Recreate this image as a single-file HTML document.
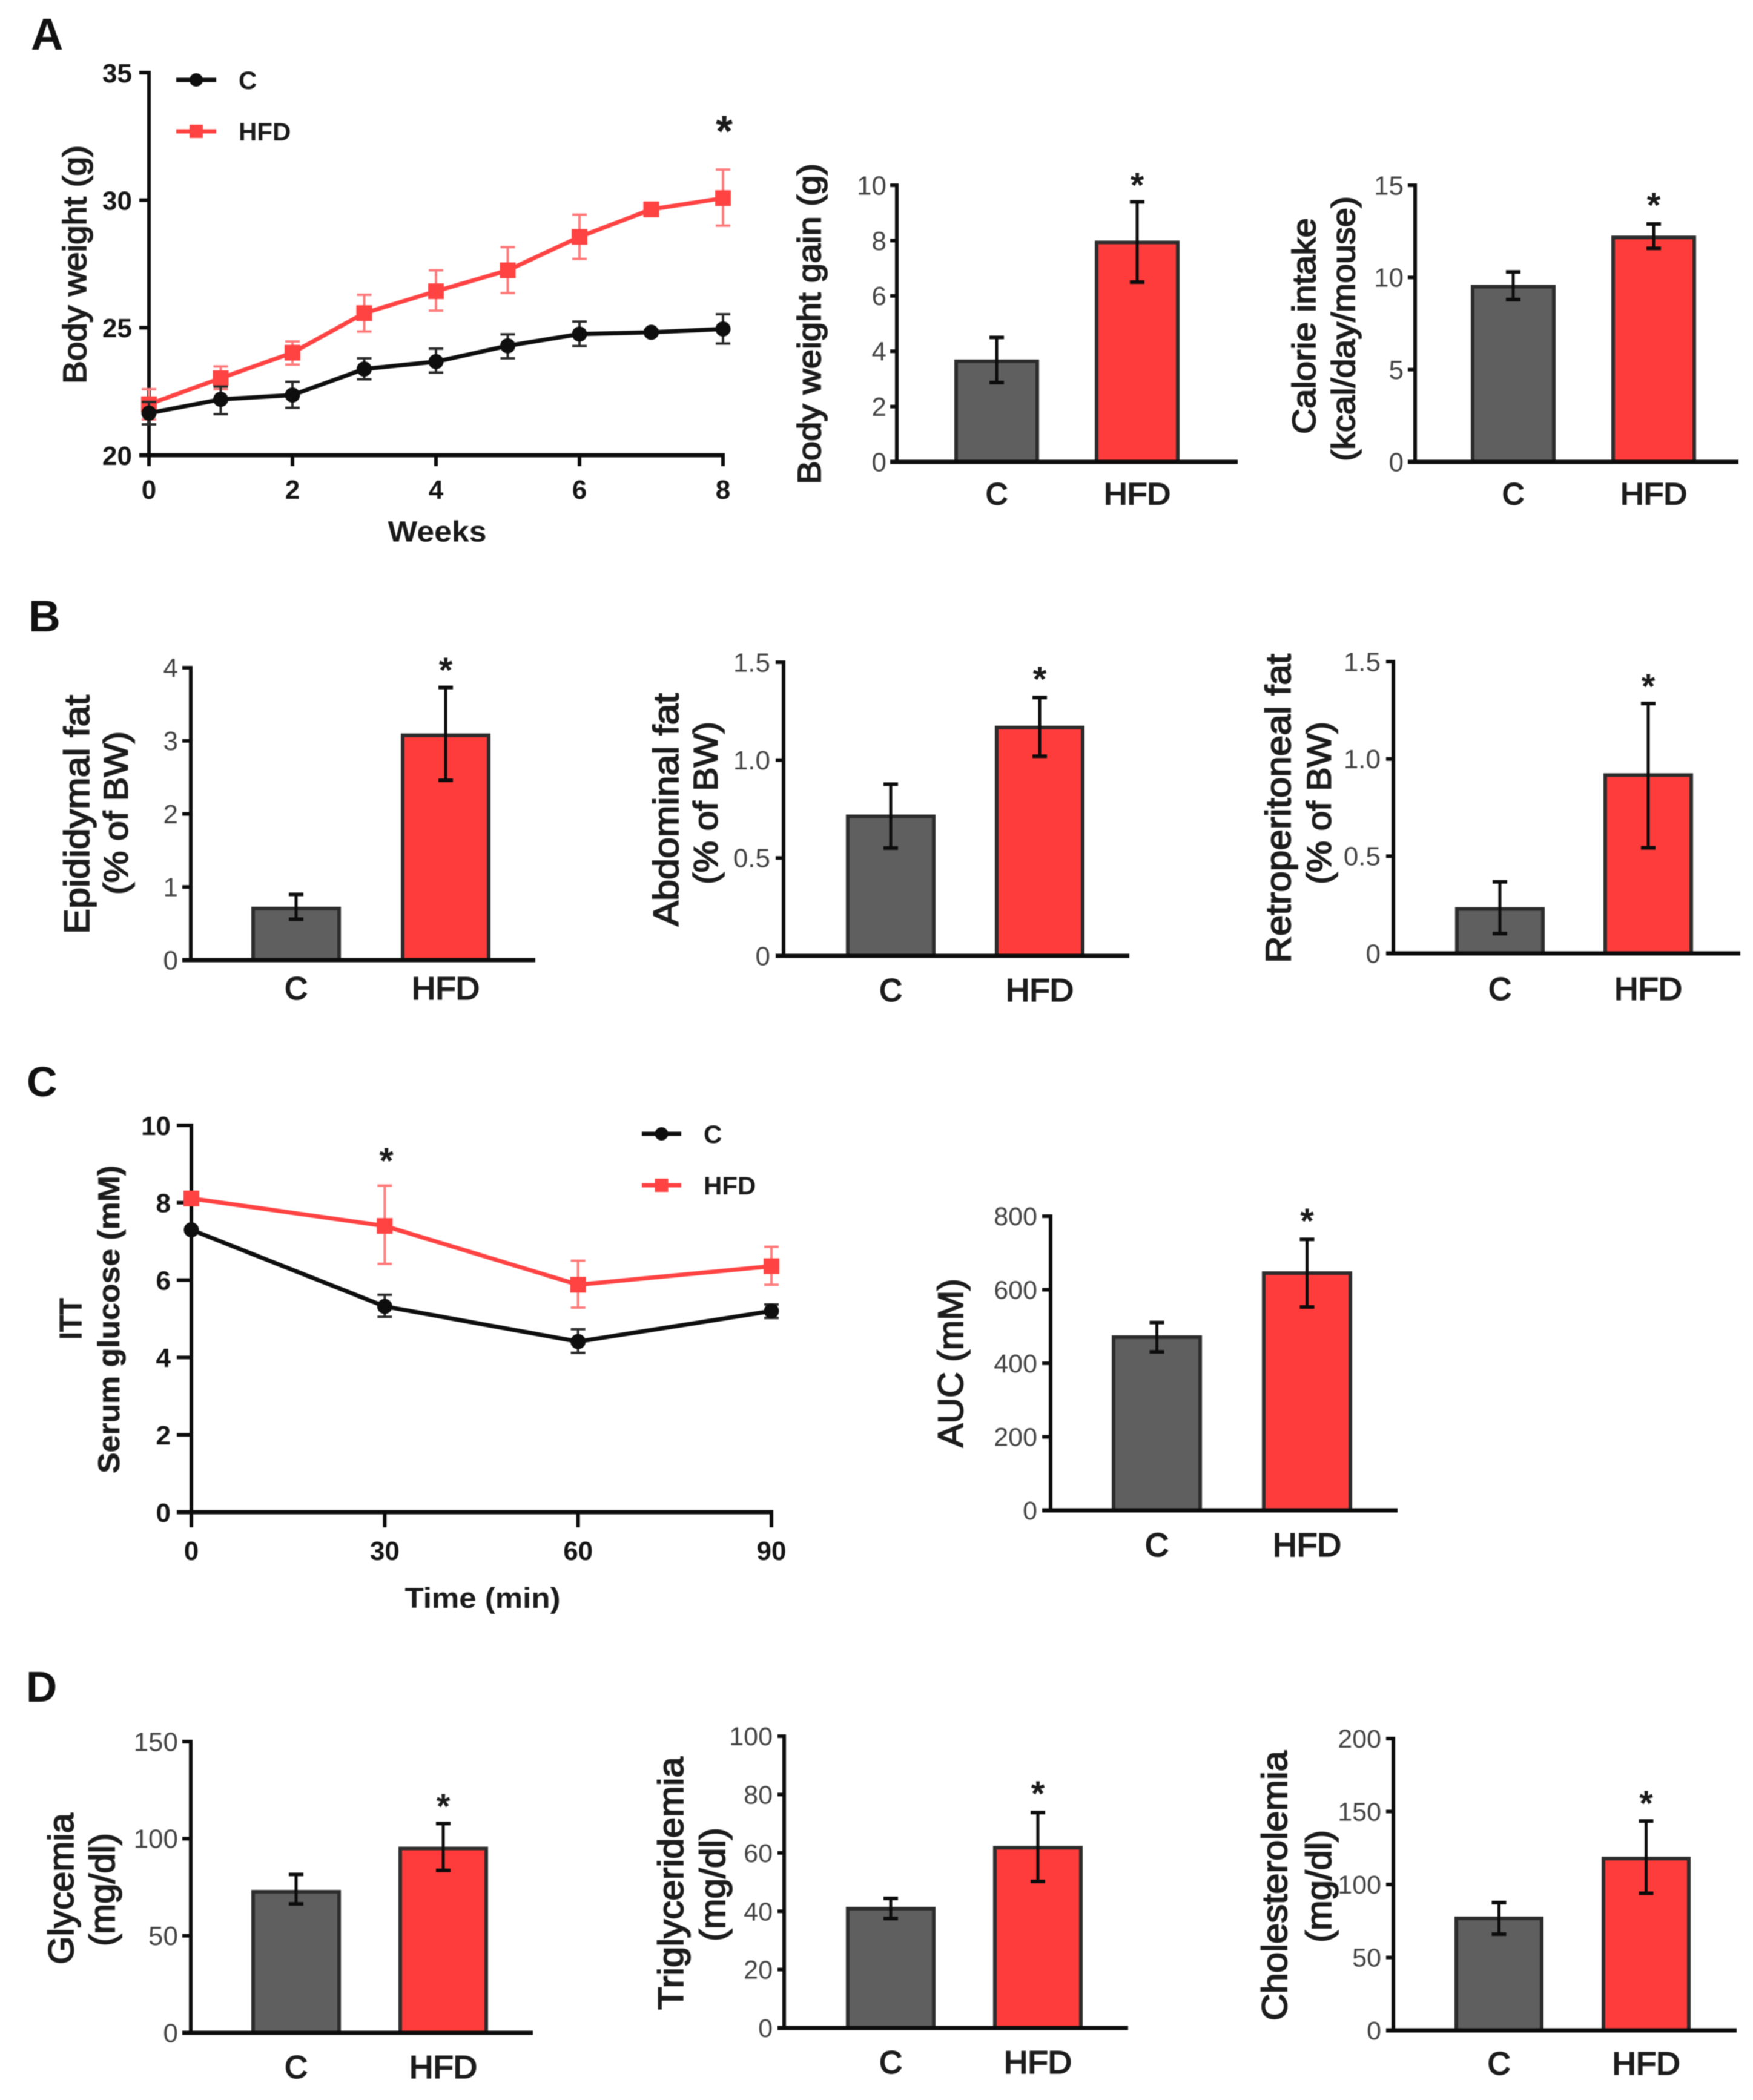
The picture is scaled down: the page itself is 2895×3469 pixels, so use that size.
<!DOCTYPE html>
<html lang="en">
<head>
<meta charset="utf-8">
<title>Body weight, fat, ITT and serum lipid figure</title>
<style>
html,body{margin:0;padding:0;background:#fff;width:2895px;height:3469px;overflow:hidden}
svg{position:absolute;left:0;top:0;filter:blur(0.9px)}
text{font-family:"Liberation Sans",sans-serif}
</style>
</head>
<body>
<svg id="figure" xmlns="http://www.w3.org/2000/svg" width="2895" height="3469" viewBox="0 0 2895 3469">
  <rect width="2895" height="3469" fill="#fff"/>
  <text x="51" y="82" font-size="74" font-weight="bold" fill="#111">A</text>
  <text x="47" y="1043" font-size="73" font-weight="bold" fill="#111">B</text>
  <text x="44" y="1811" font-size="70" font-weight="bold" fill="#111">C</text>
  <text x="43" y="2811" font-size="71" font-weight="bold" fill="#111">D</text>
  <g id="body-weight"></g>
  <g id="gain"></g>
  <g id="calorie"></g>
  <g id="epididymal"></g>
  <g id="abdominal"></g>
  <g id="retro"></g>
  <g id="itt"></g>
  <g id="auc"></g>
  <g id="glycemia"></g>
  <g id="trig"></g>
  <g id="chol"></g>
</svg>
<script>
const groups = ['C', 'HFD'];

const weightWeeks = [0, 1, 2, 3, 4, 5, 6, 7, 8];
const weightXTicks = [0, 2, 4, 6, 8];
const weightYTicks = [20, 25, 30, 35];
const weightC = [21.65, 22.19, 22.36, 23.38, 23.67, 24.29, 24.75, 24.82, 24.95];
const weightCUpper = [22.09, 22.69, 22.88, 23.8, 24.18, 24.74, 25.24, 24.9, 25.53];
const weightCLower = [21.21, 21.61, 21.86, 22.98, 23.24, 23.8, 24.28, 24.74, 24.38];
const weightHFD = [22.0, 23.02, 24.02, 25.57, 26.43, 27.25, 28.56, 29.64, 30.08];
const weightHFDUpper = [22.59, 23.48, 24.46, 26.29, 27.25, 28.16, 29.43, 29.78, 31.2];
const weightHFDLower = [21.4, 22.59, 23.55, 24.85, 25.67, 26.36, 27.7, 29.46, 29.0];

const ittTimes = [0, 30, 60, 90];
const ittXTicks = [0, 30, 60, 90];
const ittYTicks = [0, 2, 4, 6, 8, 10];
const ittC = [7.3, 5.32, 4.41, 5.2];
const ittCUpper = [7.3, 5.62, 4.73, 5.37];
const ittCLower = [7.3, 5.05, 4.12, 5.02];
const ittHFD = [8.11, 7.4, 5.88, 6.36];
const ittHFDUpper = [8.11, 8.44, 6.5, 6.86];
const ittHFDLower = [8.11, 6.42, 5.29, 5.88];

const gainTicks = [0, 2, 4, 6, 8, 10];
const gainTickLabels = ['0', '2', '4', '6', '8', '10'];
const gainMeans = [3.7, 8.0];
const gainUpper = [4.5, 9.4];
const gainLower = [2.87, 6.5];

const calorieTicks = [0, 5, 10, 15];
const calorieTickLabels = ['0', '5', '10', '15'];
const calorieMeans = [9.6, 12.27];
const calorieUpper = [10.3, 12.9];
const calorieLower = [8.8, 11.58];

const epididymalTicks = [0, 1, 2, 3, 4];
const epididymalTickLabels = ['0', '1', '2', '3', '4'];
const epididymalMeans = [0.73, 3.1];
const epididymalUpper = [0.9, 3.73];
const epididymalLower = [0.56, 2.46];

const abdominalTicks = [0, 0.5, 1, 1.5];
const abdominalTickLabels = ['0', '0.5', '1.0', '1.5'];
const abdominalMeans = [0.722, 1.176];
const abdominalUpper = [0.877, 1.32];
const abdominalLower = [0.551, 1.02];

const retroTicks = [0, 0.5, 1, 1.5];
const retroTickLabels = ['0', '0.5', '1.0', '1.5'];
const retroMeans = [0.238, 0.926];
const retroUpper = [0.368, 1.285];
const retroLower = [0.102, 0.543];

const aucTicks = [0, 200, 400, 600, 800];
const aucTickLabels = ['0', '200', '400', '600', '800'];
const aucMeans = [476, 650];
const aucUpper = [511, 737];
const aucLower = [431, 553];

const glycemiaTicks = [0, 50, 100, 150];
const glycemiaTickLabels = ['0', '50', '100', '150'];
const glycemiaMeans = [73.6, 95.9];
const glycemiaUpper = [81.6, 107.8];
const glycemiaLower = [66.4, 83.7];

const trigTicks = [0, 20, 40, 60, 80, 100];
const trigTickLabels = ['0', '20', '40', '60', '80', '100'];
const trigMeans = [41.5, 62.4];
const trigUpper = [44.4, 73.8];
const trigLower = [37.5, 50.2];

const cholTicks = [0, 50, 100, 150, 200];
const cholTickLabels = ['0', '50', '100', '150', '200'];
const cholMeans = [78, 119];
const cholUpper = [87.6, 143.5];
const cholLower = [66, 94];

const NS = 'http://www.w3.org/2000/svg';
function make(parent, tag, attrs) {
  const node = document.createElementNS(NS, tag);
  for (const key in attrs) node.setAttribute(key, attrs[key]);
  parent.appendChild(node);
  return node;
}
function segment(parent, x1, y1, x2, y2, color, width) {
  return make(parent, 'line', {x1: x1, y1: y1, x2: x2, y2: y2, stroke: color, 'stroke-width': width});
}
function label(parent, str, x, y, size, opts) {
  const o = opts || {};
  const attrs = {x: x, y: y, 'font-size': size, 'text-anchor': o.anchor || 'middle', fill: o.fill || '#222'};
  if (o.bold) attrs['font-weight'] = 'bold';
  if (o.stroke) { attrs.stroke = o.fill || '#222'; attrs['stroke-width'] = o.stroke; }
  if (o.length) { attrs.textLength = o.length; attrs.lengthAdjust = 'spacingAndGlyphs'; }
  const node = make(parent, 'text', attrs);
  node.textContent = str;
  return node;
}
function drawTitle(parent, t) {
  const cy = (t.y0 + t.y1) / 2;
  const bx = t.cx + 0.26 * t.fs;
  const node = label(parent, t.text, 0, 0, t.fs, {length: t.y1 - t.y0, bold: t.bold, stroke: t.bold ? 0.6 : 1.8, fill: '#1c1c1c'});
  node.setAttribute('transform', 'translate(' + bx + ',' + cy + ') rotate(-90)');
  
  
}
function drawStar(parent, x, cy, size) {
  const node = label(parent, '*', x, cy + 0.48 * size, size, {bold: true, fill: '#1a1a1a'});
  
  
}

function drawBarChart(id, cfg, ticks, tickLabels, means, upper, lower) {
  const root = document.getElementById(id);
  const yMax = ticks[ticks.length - 1];
  const yScale = v => cfg.base - v / yMax * (cfg.base - cfg.top);
  const barLeft = i => cfg.barLeft + i * cfg.step;

  groups.forEach((g, i) => {
    const y = yScale(means[i]);
    const bar = make(root, 'rect', {x: barLeft(i) + 3, y: y + 3, width: cfg.barW - 6, height: cfg.base - y - 3,
      fill: i === 0 ? '#5f5f5f' : '#ff3c3c', stroke: '#2c2c2c', 'stroke-width': 6});
    
    
  });

  const yAxis = segment(root, cfg.axisX, cfg.top - 3, cfg.axisX, cfg.base + 3, '#0c0c0c', 6);
  
  
  const xAxis = segment(root, cfg.tickLeft, cfg.base, cfg.right, cfg.base, '#0c0c0c', 7);
  
  

  ticks.forEach((v, i) => {
    const y = yScale(v);
    const mark = segment(root, cfg.tickLeft, y, cfg.axisX, y, '#0c0c0c', 6);
    
    
    const text = label(root, tickLabels[i], cfg.tickRight, y + 0.35 * cfg.tickFs, cfg.tickFs, {anchor: 'end', fill: '#444'});
    
    
  });

  groups.forEach((g, i) => {
    const cx = barLeft(i) + cfg.barW / 2;
    const stem = segment(root, cx, yScale(upper[i]), cx, yScale(lower[i]), '#0c0c0c', 5);
    
    
    const capTop = segment(root, cx - 12, yScale(upper[i]), cx + 12, yScale(upper[i]), '#0c0c0c', 6);
    
    
    const capBottom = segment(root, cx - 12, yScale(lower[i]), cx + 12, yScale(lower[i]), '#0c0c0c', 6);
    
    
    const cat = label(root, g, cx, cfg.catY + 0.36 * cfg.catFs, cfg.catFs, {stroke: 2.2, fill: '#1c1c1c', length: i === 1 ? cfg.hfdW : 0});
    
    
  });

  drawStar(root, barLeft(1) + cfg.barW / 2, cfg.starY, 58);
  cfg.titles.forEach(t => drawTitle(root, t));
}

function drawLineChart(id, cfg, xs, xTicks, yTicks, seriesC, cUp, cLo, seriesH, hUp, hLo) {
  const root = document.getElementById(id);
  const xMax = xTicks[xTicks.length - 1];
  const yMin = yTicks[0];
  const yMax = yTicks[yTicks.length - 1];
  const xScale = v => cfg.axisX + v / xMax * (cfg.xEnd - cfg.axisX);
  const yScale = v => cfg.base - (v - yMin) / (yMax - yMin) * (cfg.base - cfg.top);

  const yAxis = segment(root, cfg.axisX, cfg.top - 3, cfg.axisX, cfg.base + 3, '#0c0c0c', 6);
  
  
  const xAxis = segment(root, cfg.tickLeft, cfg.base, cfg.xEnd + 3, cfg.base, '#0c0c0c', 7);
  
  

  yTicks.forEach(v => {
    const y = yScale(v);
    const mark = segment(root, cfg.tickLeft, y, cfg.axisX, y, '#0c0c0c', 6);
    
    
    const text = label(root, String(v), cfg.tickRight, y + 0.36 * cfg.tickFs, cfg.tickFs, {anchor: 'end', bold: true, fill: '#151515'});
    
    
  });
  xTicks.forEach(v => {
    const x = xScale(v);
    const mark = segment(root, x, cfg.base, x, cfg.tickBottom, '#0c0c0c', 6);
    
    
    const text = label(root, String(v), x, cfg.xLabelY + 0.36 * cfg.tickFs, cfg.tickFs, {bold: true, fill: '#151515'});
    
    
  });

  const drawSeries = (values, up, lo, color, errColor, isSquare) => {
    xs.forEach((v, i) => {
      if (up[i] === lo[i]) return;
      const x = xScale(v);
      const stem = segment(root, x, yScale(up[i]), x, yScale(lo[i]), errColor, 4);
      
      
      const capTop = segment(root, x - 12, yScale(up[i]), x + 12, yScale(up[i]), errColor, 4);
      
      
      const capBottom = segment(root, x - 12, yScale(lo[i]), x + 12, yScale(lo[i]), errColor, 4);
      
      
    });
    const line = make(root, 'polyline', {points: xs.map((v, i) => xScale(v) + ',' + yScale(values[i])).join(' '),
      fill: 'none', stroke: color, 'stroke-width': 7});
    
    
    xs.forEach((v, i) => {
      const x = xScale(v);
      const y = yScale(values[i]);
      const point = isSquare
        ? make(root, 'rect', {x: x - 13, y: y - 13, width: 26, height: 26, fill: color})
        : make(root, 'circle', {cx: x, cy: y, r: 12.5, fill: color});
      
      
    });
  };
  drawSeries(seriesH, hUp, hLo, '#ff4242', '#ff7b7b', true);
  drawSeries(seriesC, cUp, cLo, '#0e0e0e', '#2a2a2a', false);

  const legendLines = [
    {name: 'C', y: cfg.legendY[0], color: '#0e0e0e'},
    {name: 'HFD', y: cfg.legendY[1], color: '#ff4242'}
  ];
  legendLines.forEach((entry, i) => {
    const key = segment(root, cfg.legendX[0], entry.y, cfg.legendX[1], entry.y, entry.color, 7);
    
    
    const mid = (cfg.legendX[0] + cfg.legendX[1]) / 2;
    const symbol = i === 0
      ? make(root, 'circle', {cx: mid, cy: entry.y, r: 11, fill: entry.color})
      : make(root, 'rect', {x: mid - 11, y: entry.y - 11, width: 22, height: 22, fill: entry.color});
    
    
    const text = label(root, entry.name, cfg.legendText, entry.y + 15, 42, {anchor: 'start', bold: true, fill: '#1a1a1a'});
    
    
  });

  const xTitle = label(root, cfg.xTitle.text, cfg.xTitle.cx, cfg.xTitle.cy + 0.36 * cfg.xTitle.fs, cfg.xTitle.fs,
    {bold: true, length: cfg.xTitle.w, fill: '#1a1a1a'});
  
  
  drawStar(root, cfg.star[0], cfg.star[1], cfg.star[2]);
  cfg.titles.forEach(t => drawTitle(root, t));
}

drawLineChart('body-weight', {axisX: 246, xEnd: 1194, top: 120, base: 752, tickLeft: 230, tickBottom: 770, tickRight: 218,
  tickFs: 44, xLabelY: 808, legendX: [291, 357], legendY: [132, 217], legendText: 394,
  xTitle: {text: 'Weeks', cx: 722, cy: 877, fs: 48, w: 163}, star: [1196, 207, 72],
  titles: [{text: 'Body weight (g)', cx: 128, y0: 240, y1: 634, fs: 54}]},
  weightWeeks, weightXTicks, weightYTicks, weightC, weightCUpper, weightCLower, weightHFD, weightHFDUpper, weightHFDLower);

drawLineChart('itt', {axisX: 316, xEnd: 1274, top: 1859, base: 2498, tickLeft: 292, tickBottom: 2523, tickRight: 282,
  tickFs: 44, xLabelY: 2561, legendX: [1060, 1125], legendY: [1873, 1958], legendText: 1162,
  xTitle: {text: 'Time (min)', cx: 797, cy: 2639, fs: 47, w: 257}, star: [638, 1909, 60],
  titles: [{text: 'ITT', cx: 121, y0: 2144, y1: 2213, fs: 52, bold: true},
           {text: 'Serum glucose (mM)', cx: 184, y0: 1925, y1: 2434, fs: 50, bold: true}]},
  ittTimes, ittXTicks, ittYTicks, ittC, ittCUpper, ittCLower, ittHFD, ittHFDUpper, ittHFDLower);

drawBarChart('gain', {axisX: 1481, top: 306, base: 763, tickLeft: 1470, right: 2044, tickRight: 1464, tickFs: 44,
  barLeft: 1576, barW: 140, step: 232, catY: 815, catFs: 50, hfdW: 110, starY: 298,
  titles: [{text: 'Body weight gain (g)', cx: 1341, y0: 270, y1: 800, fs: 54}]},
  gainTicks, gainTickLabels, gainMeans, gainUpper, gainLower);

drawBarChart('calorie', {axisX: 2337, top: 306, base: 763, tickLeft: 2325, right: 2871, tickRight: 2318, tickFs: 44,
  barLeft: 2429, barW: 140, step: 232, catY: 815, catFs: 50, hfdW: 110, starY: 331,
  titles: [{text: 'Calorie intake', cx: 2158, y0: 360, y1: 717, fs: 54},
           {text: '(kcal/day/mouse)', cx: 2223, y0: 324, y1: 762, fs: 54}]},
  calorieTicks, calorieTickLabels, calorieMeans, calorieUpper, calorieLower);

drawBarChart('epididymal', {axisX: 315, top: 1103, base: 1586, tickLeft: 301, right: 884, tickRight: 294, tickFs: 44,
  barLeft: 415, barW: 148, step: 247, catY: 1632, catFs: 52, hfdW: 112, starY: 1099,
  titles: [{text: 'Epididymal fat', cx: 132, y0: 1148, y1: 1543, fs: 58},
           {text: '(% of BW)', cx: 196, y0: 1208, y1: 1478, fs: 56}]},
  epididymalTicks, epididymalTickLabels, epididymalMeans, epididymalUpper, epididymalLower);

drawBarChart('abdominal', {axisX: 1294, top: 1094, base: 1579, tickLeft: 1281, right: 1865, tickRight: 1272, tickFs: 44,
  barLeft: 1397, barW: 148, step: 246, catY: 1635, catFs: 52, hfdW: 112, starY: 1114,
  titles: [{text: 'Abdominal fat', cx: 1105, y0: 1145, y1: 1530, fs: 58},
           {text: '(% of BW)', cx: 1170, y0: 1192, y1: 1461, fs: 56}]},
  abdominalTicks, abdominalTickLabels, abdominalMeans, abdominalUpper, abdominalLower);

drawBarChart('retro', {axisX: 2301, top: 1093, base: 1575, tickLeft: 2289, right: 2874, tickRight: 2280, tickFs: 44,
  barLeft: 2403, barW: 148, step: 245, catY: 1633, catFs: 52, hfdW: 112, starY: 1126,
  titles: [{text: 'Retroperitoneal fat', cx: 2116, y0: 1080, y1: 1591, fs: 58},
           {text: '(% of BW)', cx: 2183, y0: 1192, y1: 1461, fs: 56}]},
  retroTicks, retroTickLabels, retroMeans, retroUpper, retroLower);

drawBarChart('auc', {axisX: 1735, top: 2009, base: 2495, tickLeft: 1721, right: 2308, tickRight: 1713, tickFs: 43,
  barLeft: 1836, barW: 149, step: 248, catY: 2551, catFs: 54, hfdW: 113, starY: 2009,
  titles: [{text: 'AUC (mM)', cx: 1575, y0: 2112, y1: 2391, fs: 58}]},
  aucTicks, aucTickLabels, aucMeans, aucUpper, aucLower);

drawBarChart('glycemia', {axisX: 315, top: 2877, base: 3358, tickLeft: 301, right: 880, tickRight: 294, tickFs: 44,
  barLeft: 415, barW: 148, step: 243, catY: 3414, catFs: 52, hfdW: 112, starY: 2976,
  titles: [{text: 'Glycemia', cx: 106, y0: 2995, y1: 3245, fs: 58},
           {text: '(mg/dl)', cx: 174, y0: 3028, y1: 3215, fs: 58}]},
  glycemiaTicks, glycemiaTickLabels, glycemiaMeans, glycemiaUpper, glycemiaLower);

drawBarChart('trig', {axisX: 1295, top: 2868, base: 3350, tickLeft: 1284, right: 1863, tickRight: 1276, tickFs: 43,
  barLeft: 1397, barW: 148, step: 243, catY: 3406, catFs: 52, hfdW: 112, starY: 2955,
  titles: [{text: 'Triglyceridemia', cx: 1113, y0: 2902, y1: 3320, fs: 58},
           {text: '(mg/dl)', cx: 1182, y0: 3019, y1: 3207, fs: 58}]},
  trigTicks, trigTickLabels, trigMeans, trigUpper, trigLower);

drawBarChart('chol', {axisX: 2301, top: 2872, base: 3354, tickLeft: 2289, right: 2868, tickRight: 2281, tickFs: 43,
  barLeft: 2402, barW: 147, step: 243, catY: 3408, catFs: 52, hfdW: 112, starY: 2971,
  titles: [{text: 'Cholesterolemia', cx: 2110, y0: 2892, y1: 3338, fs: 58},
           {text: '(mg/dl)', cx: 2183, y0: 3023, y1: 3209, fs: 58}]},
  cholTicks, cholTickLabels, cholMeans, cholUpper, cholLower);
</script>
</body>
</html>
